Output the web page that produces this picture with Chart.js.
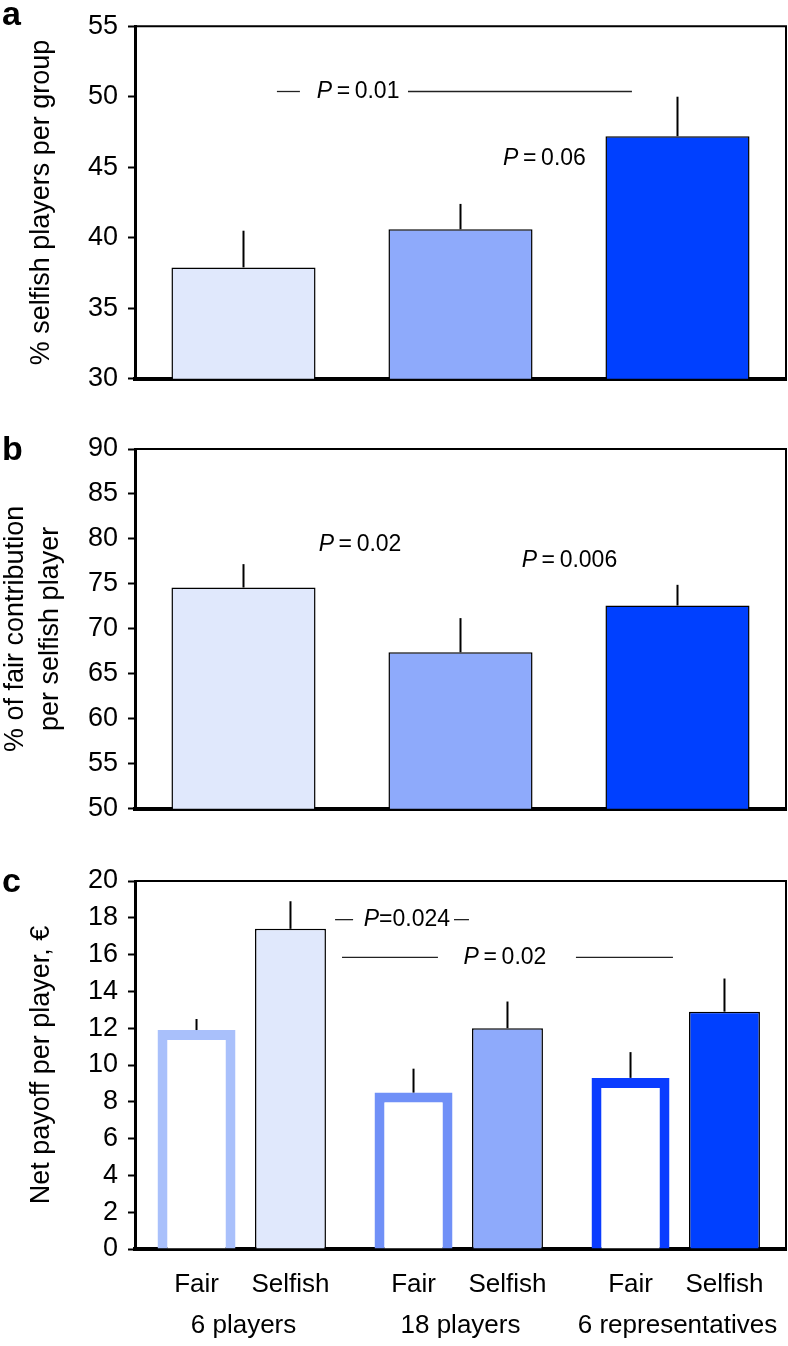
<!DOCTYPE html>
<html>
<head>
<meta charset="utf-8">
<script src="https://cdn.jsdelivr.net/npm/chart.js@4.4.1/dist/chart.umd.min.js"></script>
<style>
  body { margin: 0; background: #fff; width: 788px; height: 1346px; position: relative; overflow: hidden; }
  canvas { position: absolute; left: 0; }
</style>
</head>
<body>
<canvas id="chartA" width="788" height="405" style="top:0px"></canvas>
<canvas id="chartB" width="788" height="430" style="top:405px"></canvas>
<canvas id="chartC" width="788" height="511" style="top:835px"></canvas>
<script>
// ── DATA ──
const GROUPS = ['6 players', '18 players', '6 representatives'];

// a: % selfish players per group
const SELFISH_SHARE = [37.9, 40.6, 47.2];
const SELFISH_SHARE_ERR = [2.6, 1.8, 2.8];
const TICKS_A = [30, 35, 40, 45, 50, 55];

// b: % of fair contribution per selfish player
const CONTRIB = [74.6, 67.4, 72.6];
const CONTRIB_ERR = [2.6, 3.8, 2.3];
const TICKS_B = [50, 55, 60, 65, 70, 75, 80, 85, 90];

// c: net payoff per player (EUR)
const PAYOFF_FAIR = [11.9, 8.5, 9.3];
const PAYOFF_FAIR_ERR = [0.6, 1.3, 1.4];
const PAYOFF_SELFISH = [17.4, 12.0, 12.9];
const PAYOFF_SELFISH_ERR = [1.5, 1.45, 1.8];
const TICKS_C = [0, 2, 4, 6, 8, 10, 12, 14, 16, 18, 20];

// significance notes (x in category units, y in data units)
const NOTES_A = [
    {text: 'P\u2009=\u20090.01', x: 0.528, y: 50.37, rules: [[0.154, 0.26], [0.758, 1.79]]},
    {text: 'P\u2009=\u20090.06', x: 1.387, y: 45.6, rules: []}
];
const NOTES_B = [
    {text: 'P\u2009=\u20090.02', x: 0.537, y: 79.4, rules: []},
    {text: 'P\u2009=\u20090.006', x: 1.502, y: 77.55, rules: []}
];
const NOTES_C = [
    {text: 'P=0.024', x: 0.753, y: 17.9, rules: [[0.422, 0.505], [0.970, 1.039]]},
    {text: 'P\u2009=\u20090.02', x: 1.205, y: 15.85, rules: [[0.454, 0.896], [1.532, 1.979]]}
];

const FONT = '"Liberation Sans", Arial, Helvetica, sans-serif';
const SHADES = ['#e0e8fc', '#8eaafb', '#0040ff'];
const FAIR_EDGE = ['#a9c0fb', '#7090f7', '#0a3cff'];

// ── PLUGINS ──
const errorBars = {
    id: 'errorBars',
    afterDatasetsDraw(chart) {
        const {ctx, scales: {y}} = chart;
        ctx.save();
        ctx.strokeStyle = '#000';
        ctx.lineWidth = 2;
        chart.data.datasets.forEach((ds, i) => {
            if (!ds.errors) return;
            chart.getDatasetMeta(i).data.forEach((bar, j) => {
                const top = y.getPixelForValue(ds.data[j] + ds.errors[j]);
                ctx.beginPath();
                ctx.moveTo(bar.x, bar.y);
                ctx.lineTo(bar.x, top);
                ctx.stroke();
            });
        });
        ctx.restore();
    }
};

function drawP(ctx, text, cx, cy) {
    const rest = text.slice(1);
    ctx.font = 'italic 23px ' + FONT;
    const wP = ctx.measureText('P').width;
    ctx.font = '23px ' + FONT;
    const wR = ctx.measureText(rest).width;
    const x = cx - (wP + wR) / 2;
    ctx.textAlign = 'left';
    ctx.textBaseline = 'middle';
    ctx.font = 'italic 23px ' + FONT;
    ctx.fillText('P', x, cy);
    ctx.font = '23px ' + FONT;
    ctx.fillText(rest, x + wP, cy);
}

const notes = {
    id: 'notes',
    afterDraw(chart, args, opts) {
        const {ctx, chartArea: a, scales: {x, y}} = chart;
        ctx.save();
        // top + right frame
        ctx.strokeStyle = '#000';
        ctx.lineWidth = 2;
        ctx.beginPath();
        ctx.moveTo(a.left, a.top);
        ctx.lineTo(a.right, a.top);
        ctx.lineTo(a.right, a.bottom);
        ctx.stroke();

        // panel letter
        ctx.fillStyle = '#000';
        ctx.font = 'bold 34px ' + FONT;
        ctx.textAlign = 'left';
        ctx.textBaseline = 'alphabetic';
        ctx.fillText(opts.letter, 2, opts.letterY);

        // P values
        (opts.items || []).forEach(n => {
            const py = y.getPixelForValue(n.y);
            ctx.strokeStyle = '#222';
            ctx.lineWidth = 1.3;
            n.rules.forEach(r => {
                ctx.beginPath();
                ctx.moveTo(x.getPixelForValue(r[0]), py);
                ctx.lineTo(x.getPixelForValue(r[1]), py);
                ctx.stroke();
            });
            ctx.fillStyle = '#000';
            drawP(ctx, n.text, x.getPixelForValue(n.x), py);
        });

        // Fair / Selfish under bars
        if (opts.subLabels) {
            ctx.font = '26px ' + FONT;
            ctx.textAlign = 'center';
            ctx.textBaseline = 'alphabetic';
            chart.data.datasets.forEach((ds, i) => {
                chart.getDatasetMeta(i).data.forEach(bar => {
                    ctx.fillText(ds.label, bar.x, a.bottom + 43);
                });
            });
        }
        ctx.restore();
    }
};

Chart.register(errorBars, notes);

function yAxis(ticks, title, titlePad) {
    return {
        min: ticks[0], max: ticks[ticks.length - 1],
        afterBuildTicks: s => { s.ticks = ticks.map(v => ({value: v})); },
        afterFit: s => { s.width = 135; },
        ticks: {color: '#000', font: {size: 27, family: FONT}, padding: 10},
        grid: {drawOnChartArea: false, tickLength: 7, tickWidth: 2, tickColor: '#000'},
        border: {width: 3, color: '#000'},
        title: {display: true, text: title, color: '#000', font: {size: 27, family: FONT, lineHeight: 1.3},
            padding: {top: titlePad, bottom: 0}}
    };
}

function baseOptions(cfg) {
    return {
        responsive: false, animation: false,
        layout: {padding: {top: cfg.padTop, right: 2, bottom: 0, left: 0}},
        plugins: {
            legend: {display: false}, tooltip: {enabled: false},
            notes: {letter: cfg.letter, letterY: cfg.letterY, items: cfg.notes, subLabels: cfg.subLabels}
        },
        scales: {
            x: cfg.x || {
                ticks: {display: false},
                grid: {display: false, drawTicks: false},
                border: {width: 4, color: '#000'},
                afterFit: s => { s.height = 18; }
            },
            y: yAxis(cfg.ticks, cfg.title, cfg.titlePad)
        }
    };
}

// ── a ──
new Chart(document.getElementById('chartA'), {
    type: 'bar',
    data: {
        labels: GROUPS,
        datasets: [{
            data: SELFISH_SHARE, errors: SELFISH_SHARE_ERR,
            backgroundColor: SHADES, borderColor: '#000', borderWidth: 1.5,
            categoryPercentage: 1, barPercentage: 0.664
        }]
    },
    options: baseOptions({
        padTop: 20, ticks: TICKS_A, title: '% selfish players per group', titlePad: 24,
        letter: 'a', letterY: 25, notes: NOTES_A
    })
});

// ── b ──
new Chart(document.getElementById('chartB'), {
    type: 'bar',
    data: {
        labels: GROUPS,
        datasets: [{
            data: CONTRIB, errors: CONTRIB_ERR,
            backgroundColor: SHADES, borderColor: '#000', borderWidth: 1.5,
            categoryPercentage: 1, barPercentage: 0.664
        }]
    },
    options: baseOptions({
        padTop: 44, ticks: TICKS_B, title: ['% of fair contribution', 'per selfish player'], titlePad: -2,
        letter: 'b', letterY: 55, notes: NOTES_B
    })
});

// ── c ──
new Chart(document.getElementById('chartC'), {
    type: 'bar',
    data: {
        labels: GROUPS,
        datasets: [
            {
                label: 'Fair', data: PAYOFF_FAIR, errors: PAYOFF_FAIR_ERR,
                backgroundColor: '#fff', borderColor: FAIR_EDGE, borderWidth: 10,
                categoryPercentage: 0.866, barPercentage: 0.83
            },
            {
                label: 'Selfish', data: PAYOFF_SELFISH, errors: PAYOFF_SELFISH_ERR,
                backgroundColor: SHADES, borderColor: '#000', borderWidth: 1.5,
                categoryPercentage: 0.866, barPercentage: 0.755
            }
        ]
    },
    options: baseOptions({
        padTop: 46, ticks: TICKS_C, title: 'Net payoff per player, \u20ac', titlePad: 24,
        letter: 'c', letterY: 57, notes: NOTES_C, subLabels: true,
        x: {
            ticks: {color: '#000', font: {size: 26, family: FONT}, padding: 61, autoSkip: false, maxRotation: 0},
            grid: {display: false, drawTicks: false},
            border: {width: 4, color: '#000'},
            afterFit: s => { s.height = 97; s.paddingLeft = 0; s.paddingRight = 0; }
        }
    })
});
</script>
</body>
</html>
